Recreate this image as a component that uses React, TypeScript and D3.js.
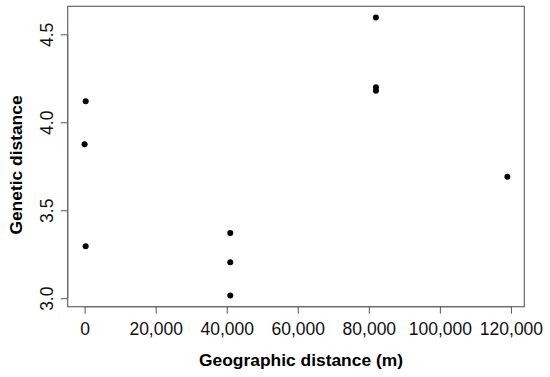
import { useEffect, useRef } from 'react';
import * as d3 from 'd3';

// geographic distance (m) vs genetic distance
const geoDist = [300, 0, 300, 41000, 41000, 41000, 82000, 82000, 82000, 119000];
const genDist = [4.12, 3.875, 3.296, 3.371, 3.204, 3.015, 4.596, 4.199, 4.179, 3.691];
const xTicks = [0, 20000, 40000, 60000, 80000, 100000, 120000];
const yTicks = [3.0, 3.5, 4.0, 4.5];

export default function App() {
    const svgRef = useRef<SVGSVGElement>(null);

    useEffect(() => {
        if (!svgRef.current) return;
        const svg = d3.select(svgRef.current);
        svg.selectAll('*').remove();

        const box = { left: 67.7, right: 524.3, top: 6.3, bottom: 306.7 };
        const font = 'Liberation Sans, Arial, Helvetica, sans-serif';

        // R-style 4% expansion of the data range
        const xr = d3.extent(geoDist) as [number, number];
        const yr = d3.extent(genDist) as [number, number];
        const xp = (xr[1] - xr[0]) * 0.04;
        const yp = (yr[1] - yr[0]) * 0.04;
        const x = d3.scaleLinear().domain([xr[0] - xp, xr[1] + xp]).range([box.left, box.right]);
        const y = d3.scaleLinear().domain([yr[0] - yp, yr[1] + yp]).range([box.bottom, box.top]);

        // x axis
        const xa = svg.append('g')
            .attr('transform', `translate(0,${box.bottom})`)
            .call(d3.axisBottom(x).tickValues(xTicks).tickSize(7).tickFormat(d3.format(',')));
        xa.select('.domain').attr('d', `M${x(xTicks[0])},0H${x(xTicks[xTicks.length - 1])}`);
        xa.selectAll('line').attr('stroke', '#555');
        xa.select('.domain').attr('stroke', '#555');
        xa.selectAll('.tick text')
            .attr('y', 28.3).attr('dy', null)
            .attr('font-family', font).attr('font-size', 17.5).attr('fill', '#111');

        // y axis (rotated labels like R)
        const ya = svg.append('g')
            .attr('transform', `translate(${box.left},0)`)
            .call(d3.axisLeft(y).tickValues(yTicks).tickSize(7).tickFormat(d3.format('.1f')));
        ya.select('.domain').attr('d', `M0,${y(yTicks[0])}V${y(yTicks[yTicks.length - 1])}`);
        ya.selectAll('line').attr('stroke', '#555');
        ya.select('.domain').attr('stroke', '#555');
        ya.selectAll('.tick text')
            .attr('x', null).attr('dy', null)
            .attr('transform', 'translate(-15,0) rotate(-90)')
            .attr('text-anchor', 'middle')
            .attr('font-family', font).attr('font-size', 17.5).attr('fill', '#111');

        // box
        svg.append('rect')
            .attr('x', box.left).attr('y', box.top)
            .attr('width', box.right - box.left).attr('height', box.bottom - box.top)
            .attr('fill', 'none').attr('stroke', '#666').attr('stroke-width', 1.2);

        // points
        svg.append('g').selectAll('circle')
            .data(geoDist.map((g, i) => [g, genDist[i]]))
            .enter().append('circle')
            .attr('cx', d => x(d[0]))
            .attr('cy', d => y(d[1]))
            .attr('r', 3)
            .attr('fill', '#000');

        // titles
        svg.append('text')
            .attr('x', 301)
            .attr('y', 366)
            .attr('text-anchor', 'middle')
            .attr('font-family', font).attr('font-weight', 'bold').attr('font-size', 17.4)
            .text('Geographic distance (m)');

        svg.append('text')
            .attr('transform', `translate(22,165) rotate(-90)`)
            .attr('text-anchor', 'middle')
            .attr('font-family', font).attr('font-weight', 'bold').attr('font-size', 17.4)
            .text('Genetic distance');
    }, []);

    return (
        <svg
            ref={svgRef}
            width={550}
            height={377}
            style={{ position: 'absolute', left: 0, top: 0, background: '#fff' }}
        />
    );
}
